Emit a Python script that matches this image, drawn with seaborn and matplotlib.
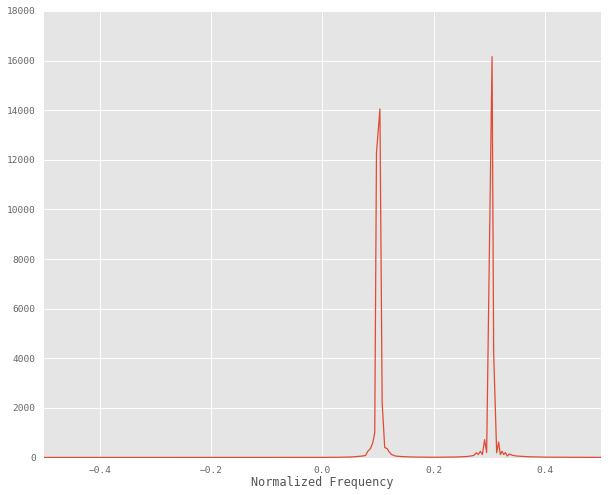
import matplotlib
matplotlib.use("Agg")
import matplotlib.pyplot as plt
import seaborn as sns
import pandas as pd

# Normalized frequency and spectrum magnitude
freq = [-0.5, -0.3, -0.1, 0.0, 0.03, 0.05, 0.06, 0.0717, 0.0771, 0.0813, 0.0861,
        0.0902, 0.0938, 0.0969, 0.1031, 0.1071, 0.1117, 0.1161, 0.1189, 0.1238,
        0.131, 0.14, 0.16, 0.2, 0.24, 0.26, 0.2714, 0.2762, 0.2798, 0.2834,
        0.2870, 0.2911, 0.2947, 0.3044, 0.3073, 0.3127, 0.3162, 0.3193, 0.3223,
        0.3252, 0.3283, 0.3318, 0.3354, 0.3408, 0.348, 0.37, 0.4, 0.45, 0.5]
magnitude = [3, 3, 4, 6, 10, 20, 35, 60, 80, 250, 360,
             590, 1000, 12280, 14050, 2200, 400, 360, 250, 120,
             60, 40, 20, 10, 20, 40, 80, 190, 120, 250,
             120, 720, 200, 16160, 4200, 190, 620, 120, 250,
             120, 200, 60, 140, 90, 60, 30, 15, 8, 5]

x_ticks = [-0.4, -0.2, 0.0, 0.2, 0.4]
y_ticks = [0, 2000, 4000, 6000, 8000, 10000, 12000, 14000, 16000, 18000]

plt.style.use("ggplot")
plt.rcParams["font.family"] = ["DejaVu Sans Mono"]

df = pd.DataFrame({"freq": freq, "magnitude": magnitude})

fig = plt.figure(figsize=(6.08, 4.95), dpi=100)
ax = fig.add_axes([44 / 608, 1 - 457.5 / 495, (601 - 44) / 608, (457.5 - 11) / 495])
sns.lineplot(data=df, x="freq", y="magnitude", ax=ax, color="#E24A33",
             linewidth=0.9, sort=False, estimator=None)

ax.set_xlim(-0.5, 0.5)
ax.set_ylim(0, 18000)
ax.set_xticks(x_ticks)
ax.set_yticks(y_ticks)
ax.set_xticklabels([f"{t:.1f}".replace("-", "\u2212") for t in x_ticks])
ax.set_yticklabels([str(t) for t in y_ticks])
ax.tick_params(axis="both", length=0, labelsize=6.8, colors="#666666", pad=6)
ax.set_xlabel("Normalized Frequency", fontsize=8.5, color="#555555", labelpad=1)
ax.set_ylabel("")
ax.grid(True, color="white", linewidth=0.7)
for s in ax.spines.values():
    s.set_visible(False)

fig.savefig("out.png", dpi=100)
